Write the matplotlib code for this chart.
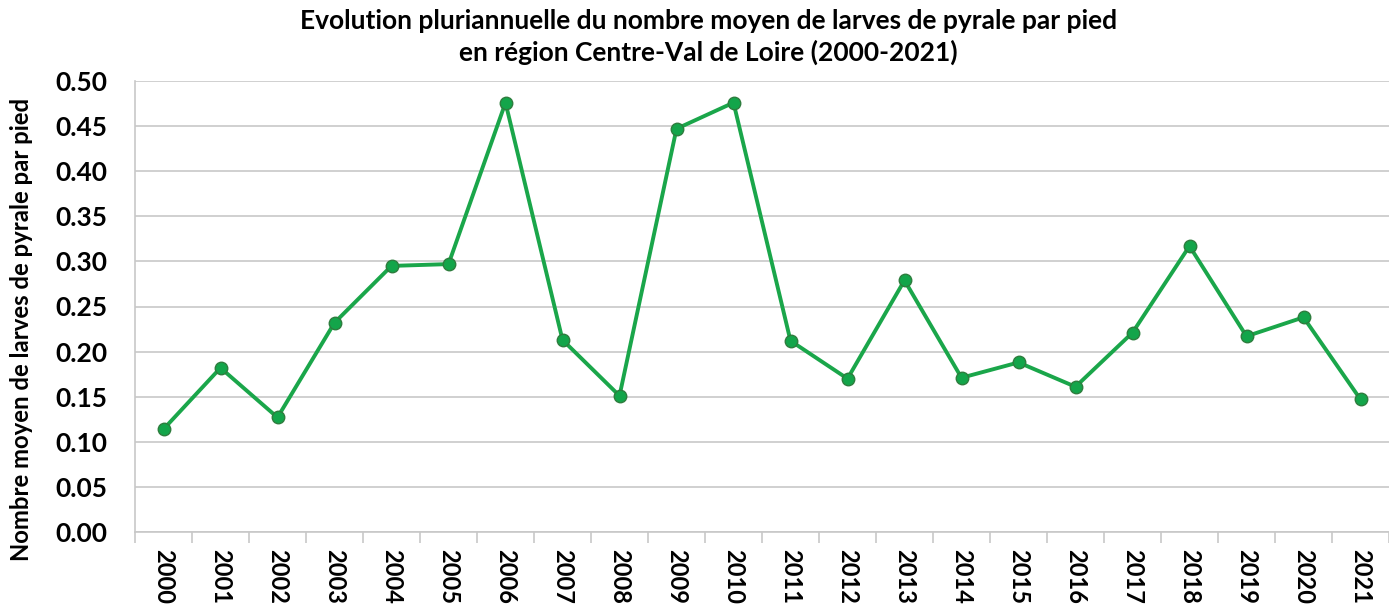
import matplotlib
matplotlib.use("Agg")
import matplotlib.pyplot as plt
from matplotlib.ticker import FixedLocator

years = [str(y) for y in range(2000, 2022)]
values = [0.114, 0.182, 0.127, 0.232, 0.295, 0.297, 0.476, 0.213, 0.151, 0.447,
          0.476, 0.212, 0.170, 0.279, 0.171, 0.188, 0.161, 0.221, 0.317, 0.217,
          0.238, 0.147]
yticks = [0.0, 0.05, 0.10, 0.15, 0.20, 0.25, 0.30, 0.35, 0.40, 0.45, 0.50]

plt.rcParams['font.family'] = ['Lato', 'DejaVu Sans']
plt.rcParams['font.weight'] = 'bold'

fig = plt.figure(figsize=(13.89, 6.10), dpi=100)
ax = fig.add_axes([135/1389, 78/610, 1 - 135/1389, (532-81)/610])

x = list(range(len(years)))
ax.plot(x, values, color='#1aa64a', lw=2.8, marker='o', markersize=9,
        markerfacecolor='#13a54a', markeredgecolor='#2e7d3e', markeredgewidth=1.0, zorder=3)

ax.set_xlim(-0.5, len(years) - 0.5)
ax.set_ylim(0, 0.5)
ax.set_yticks(yticks)
ax.set_yticklabels([f"{v:.2f}" for v in yticks], fontsize=19, fontweight='bold')
ax.yaxis.grid(True, color='#c8c8c8', lw=1.2)
ax.set_axisbelow(True)

ax.set_xticks(x)
ax.set_xticklabels(years, rotation=270, fontsize=17, fontweight='bold')
ax.tick_params(axis='x', which='major', length=0, pad=12)
ax.xaxis.set_minor_locator(FixedLocator([i - 0.5 for i in range(len(years) + 1)]))
ax.tick_params(axis='x', which='minor', length=8, color='#c8c8c8', width=1.2)
ax.tick_params(axis='y', length=0, pad=20)

for s in ['top', 'right']:
    ax.spines[s].set_visible(False)
ax.spines['left'].set_color('#c8c8c8')
ax.spines['bottom'].set_color('#c8c8c8')
ax.spines['left'].set_linewidth(1.2)
ax.spines['bottom'].set_linewidth(1.2)

ax.set_ylabel("Nombre moyen de larves de pyrale par pied", fontsize=17.2, fontweight='bold', labelpad=12)
ax.yaxis.set_label_coords(-0.081, 0.45)
fig.text(0.51, 0.985, "Evolution pluriannuelle du nombre moyen de larves de pyrale par pied\nen région Centre-Val de Loire (2000-2021)",
         ha='center', va='top', fontsize=19, fontweight='bold', linespacing=1.3)

fig.savefig("out.png", dpi=100)
